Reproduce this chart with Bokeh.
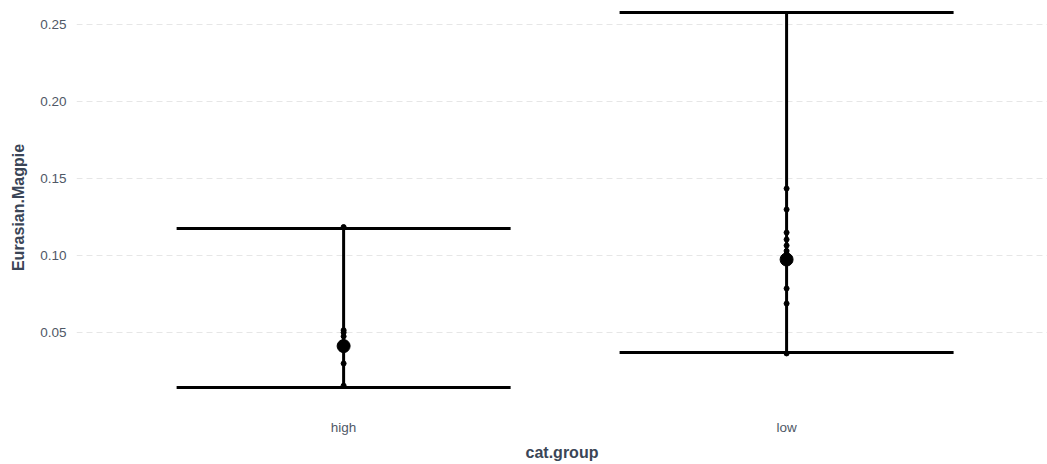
from bokeh.plotting import figure
from bokeh.models import (Range1d, FixedTicker, Whisker, TeeHead, ColumnDataSource)
from bokeh.embed import file_html
from bokeh.resources import INLINE

categories = ["high", "low"]
mean_vals = [0.0412, 0.0974]
lower_vals = [0.0143, 0.0370]
upper_vals = [0.1175, 0.2578]
high_points = [0.1185, 0.0515, 0.0500, 0.0475, 0.0299, 0.0155]
low_points = [0.1435, 0.1299, 0.1149, 0.1104, 0.1065, 0.1030, 0.1010, 0.0786, 0.0688, 0.0364]
y_ticks = [0.05, 0.10, 0.15, 0.20, 0.25]

pos = {c: i + 1 for i, c in enumerate(categories)}
xs = [pos[c] for c in categories]

p = figure(width=1047, height=464, output_backend="svg", toolbar_location=None,
           x_range=Range1d(0.397, 2.589), y_range=Range1d(0.00195, 0.2604),
           min_border_left=76, min_border_right=0, min_border_top=8, min_border_bottom=58)
p.outline_line_color = None
p.background_fill_color = "white"
p.border_fill_color = "white"

font = "Liberation Sans"
for ax in (p.xaxis[0], p.yaxis[0]):
    ax.axis_line_color = None
    ax.major_tick_line_color = None
    ax.minor_tick_line_color = None
    ax.major_tick_out = 0
    ax.major_tick_in = 0
    ax.minor_tick_out = 0
    ax.major_label_text_font = font
    ax.major_label_text_font_size = "13.5px"
    ax.major_label_text_color = "#4f5866"
    ax.axis_label_text_font = font
    ax.axis_label_text_font_size = "16px"
    ax.axis_label_text_font_style = "bold"
    ax.axis_label_text_color = "#3a4556"

p.xaxis.ticker = FixedTicker(ticks=xs)
p.xaxis.major_label_overrides = {pos[c]: c for c in categories}
p.xaxis.axis_label = "cat.group"
p.xaxis.major_label_standoff = 13
p.xaxis.axis_label_standoff = 6
p.yaxis.ticker = FixedTicker(ticks=y_ticks)
p.yaxis.major_label_overrides = {t: f"{t:.2f}" for t in y_ticks}
p.yaxis.axis_label = "Eurasian.Magpie"
p.yaxis.major_label_standoff = 10
p.yaxis.axis_label_standoff = 10

p.xgrid.grid_line_color = None
p.ygrid.grid_line_color = "#e6e6e6"
p.ygrid.grid_line_dash = "6 4"
p.ygrid.grid_line_width = 1

src = ColumnDataSource(dict(x=xs, lower=lower_vals, upper=upper_vals, mean=mean_vals))
w = Whisker(base="x", lower="lower", upper="upper", source=src, dimension="height",
            line_color="black", line_width=3,
            lower_head=TeeHead(size=334, line_color="black", line_width=3),
            upper_head=TeeHead(size=334, line_color="black", line_width=3))
p.add_layout(w)

px = [pos["high"]] * len(high_points) + [pos["low"]] * len(low_points)
py = high_points + low_points
p.scatter(px, py, size=5, color="black")
p.scatter("x", "mean", source=src, size=13, color="black")

open("out.html", "w").write(file_html(p, INLINE))
